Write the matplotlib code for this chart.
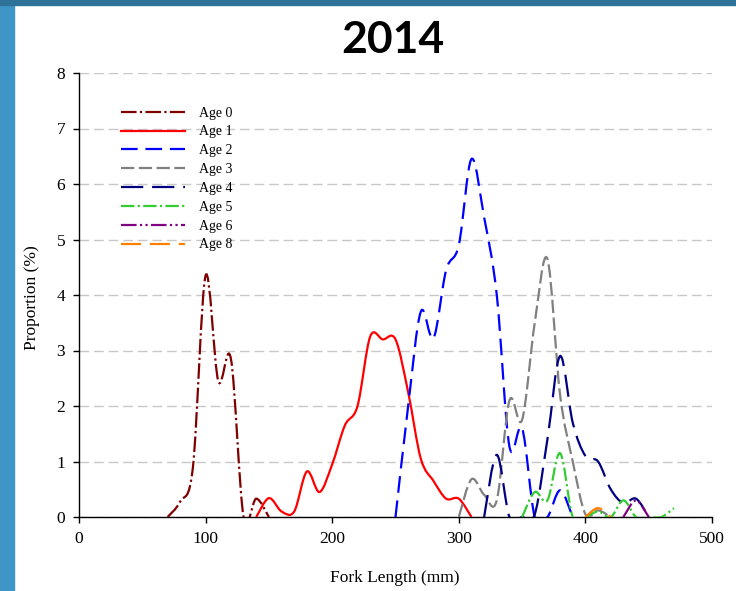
import matplotlib
matplotlib.use("Agg")
import matplotlib.pyplot as plt
from matplotlib.path import Path
from matplotlib.patches import PathPatch, Rectangle
from matplotlib.lines import Line2D

# proportion (%) by fork length (mm), 10 mm bins, one list pair per age
age0_x = [70, 80, 90, 100, 110, 120, 130, 140, 150]
age0_y = [0, 0.28, 0.9, 4.35, 2.45, 2.85, 0, 0.33, 0]
age1_x = [140, 150, 160, 170, 180, 190, 200, 210, 220, 230, 240, 250, 260, 270, 280, 290, 300, 310]
age1_y = [0, 0.34, 0.1, 0.1, 0.82, 0.45, 0.95, 1.65, 2.0, 3.25, 3.2, 3.2, 2.25, 1.05, 0.65, 0.33, 0.33, 0]
age2_x = [250, 260, 270, 280, 290, 300, 310, 320, 330, 340, 350, 360, 370, 380, 390]
age2_y = [0, 2.0, 3.7, 3.22, 4.45, 4.9, 6.45, 5.4, 4.0, 1.27, 1.6, 0, 0, 0.48, 0]
age3_x = [300, 310, 320, 330, 340, 350, 360, 370, 380, 390, 400, 410, 420]
age3_y = [0, 0.68, 0.4, 0.3, 2.1, 1.75, 3.5, 4.65, 2.2, 1.0, 0.05, 0.12, 0]
age4_x = [320, 330, 340, 350, 360, 370, 380, 390, 400, 410, 420, 430, 440, 450]
age4_y = [0, 1.12, 0, 0, 0.05, 1.4, 2.9, 1.7, 1.1, 1.0, 0.5, 0.25, 0.33, 0]
age5_x = [350, 360, 370, 380, 390, 400, 410, 420, 430, 440, 450, 460, 470]
age5_y = [0, 0.45, 0.3, 1.15, 0, 0, 0.1, 0, 0.3, 0, 0, 0, 0.16]
age6_x = [430, 440, 450]
age6_y = [0, 0.3, 0]
age8_x = [400, 410, 420]
age8_y = [0, 0.16, 0]

labels = ["Age 0", "Age 1", "Age 2", "Age 3", "Age 4", "Age 5", "Age 6", "Age 8"]
xs = [age0_x, age1_x, age2_x, age3_x, age4_x, age5_x, age6_x, age8_x]
ys = [age0_y, age1_y, age2_y, age3_y, age4_y, age5_y, age6_y, age8_y]
colors = ["#7f0000", "#ff0000", "#0000ff", "#808080", "#000080", "#33cc33", "#800080", "#ff8000"]
styles = [(0, (7, 1.5, 1, 1.5)), "-", (0, (7.5, 3.5)), (0, (6, 2)), (0, (10, 4)),
          (0, (6, 1.5, 1, 1.5)), (0, (7, 1.5, 1, 1.5, 1, 1.5)), (0, (9, 4))]


def smooth_path(x, y):
    # Excel-like smoothed line: cubic Bezier through each data point
    n = len(x)
    verts = [(x[0], y[0])]
    codes = [Path.MOVETO]
    for i in range(n - 1):
        a = max(i - 1, 0)
        d = min(i + 2, n - 1)
        c1 = (x[i] + (x[i + 1] - x[a]) / 6, y[i] + (y[i + 1] - y[a]) / 6)
        c2 = (x[i + 1] - (x[d] - x[i]) / 6, y[i + 1] - (y[d] - y[i]) / 6)
        verts += [c1, c2, (x[i + 1], y[i + 1])]
        codes += [Path.CURVE4] * 3
    return Path(verts, codes)


fig = plt.figure(figsize=(7.36, 5.91), dpi=100)
fig.patches.append(Rectangle((0, 0), 14 / 736, 1, transform=fig.transFigure, color="#3f95c8", zorder=0))
fig.patches.append(Rectangle((0, 1 - 5 / 591), 1, 5 / 591, transform=fig.transFigure, color="#2f7299", zorder=0))

ax = fig.add_axes([79 / 736, 74 / 591, 633 / 736, 444 / 591])
ax.set_xlim(0, 500)
ax.set_ylim(0, 8)

handles = []
for x, y, c, ls, lab in zip(xs, ys, colors, styles, labels):
    ax.add_patch(PathPatch(smooth_path(x, y), fill=False, edgecolor=c, lw=1.6, linestyle=ls, zorder=3))
    handles.append(Line2D([], [], color=c, lw=1.6, linestyle=ls, label=lab))

ax.set_yticks(range(0, 9))
ax.set_xticks(range(0, 501, 100))
ax.yaxis.grid(True, color="#c8c8c8", linestyle=(0, (7, 3.5)), lw=1.0)
ax.set_axisbelow(True)
for s in ["top", "right"]:
    ax.spines[s].set_visible(False)
ax.spines["left"].set_linewidth(1.0)
ax.spines["bottom"].set_linewidth(1.0)
ax.tick_params(direction="out", length=4, width=1.0, labelsize=12.5, pad=6)
for t in ax.get_xticklabels() + ax.get_yticklabels():
    t.set_fontfamily("Liberation Serif")

fig.text(393 / 736, 1 - 40 / 591, "2014", fontsize=32, fontweight="bold", family="Lato",
         ha="center", va="center")
fig.text(395 / 736, 1 - 578 / 591, "Fork Length (mm)", fontsize=12.5, family="Liberation Serif",
         ha="center", va="center")
fig.text(32 / 736, 1 - 298 / 591, "Proportion (%)", fontsize=12.5, family="Liberation Serif",
         ha="center", va="center", rotation=90)

ax.legend(handles=handles, loc="upper left", bbox_to_anchor=(0.055, 0.94), frameon=False,
          prop={"family": "Liberation Serif", "size": 10}, handlelength=4.6,
          handletextpad=1.0, labelspacing=0.42, borderpad=0)

fig.savefig("out.png", dpi=100)
